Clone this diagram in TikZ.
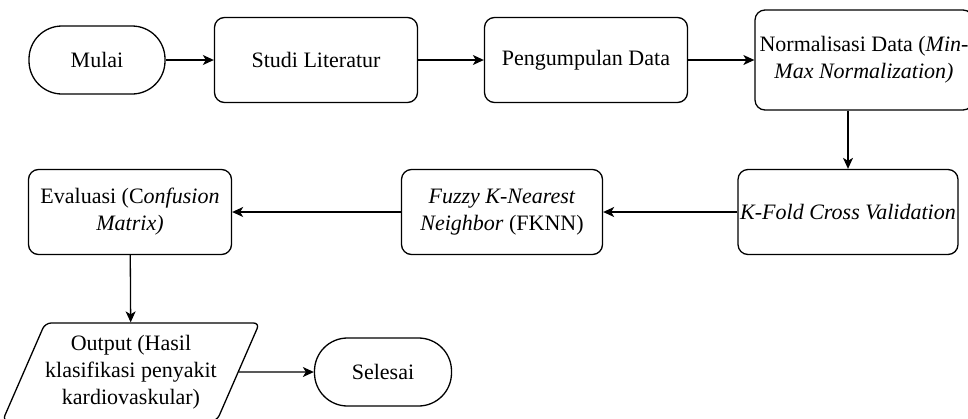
\documentclass[tikz,border=0pt]{standalone}
\usepackage{fontspec}
\setmainfont{Liberation Serif}
\usepackage{tikz}
\usetikzlibrary{arrows.meta,shapes.geometric}

\begin{document}
\begin{tikzpicture}[x=1pt, y=-1pt, ->, >={Stealth[length=11pt, width=10pt, inset=3pt]}, line width=1.3pt,
    every node/.style={draw, align=center, inner sep=0pt, font=\fontsize{22}{27}\selectfont},
    proses/.style={rectangle, rounded corners=10pt, minimum height=85pt},
    terminal/.style={rectangle, rounded corners=33pt, minimum width=136pt, minimum height=68pt},
    io/.style={trapezium, trapezium left angle=60, trapezium right angle=120, trapezium stretches body=true, rounded corners=6pt, minimum width=239pt, minimum height=98pt}]
                    \useasboundingbox (0,0) rectangle (968,418);
                    % Nodes
                    \node[terminal] (mulai) at (97, 60) {Mulai};
                    \node[proses, minimum width=203pt] (studi) at (316, 60) {Studi Literatur};
                    \node[proses, minimum width=203pt] (kumpul) at (586, 60) {Pengumpulan Data};
                    \node[proses, minimum width=218pt, minimum height=100pt] (normal) at (864, 60) {Normalisasi Data (\textit{Min-}\\\textit{Max Normalization)}};

                    \node[proses, minimum width=220pt] (kfold) at (848, 212) {\textit{K-Fold Cross Validation}};
                    \node[proses, minimum width=201pt] (fknn) at (502, 212) {\textit{Fuzzy K-Nearest}\\\textit{Neighbor} (FKNN)};
                    \node[proses, minimum width=203pt] (eval) at (130, 212) {Evaluasi (C\textit{onfusion}\\\textit{Matrix)}};

                    \node[io] (output) at (131, 372) {Output (Hasil\\klasifikasi penyakit\\kardiovaskular)};
                    \node[terminal, minimum width=137pt] (selesai) at (383, 372) {Selesai};

                    % Edges
                    \draw (mulai) -- (studi);
                    \draw (studi) -- (kumpul);
                    \draw (kumpul) -- (normal);
                    \draw (normal.south -| kfold.north) -- (kfold);
                    \draw (kfold) -- (fknn);
                    \draw (fknn) -- (eval);
                    \draw (eval) -- (output);
                    \draw (output) -- (selesai);
                \end{tikzpicture}
\end{document}
